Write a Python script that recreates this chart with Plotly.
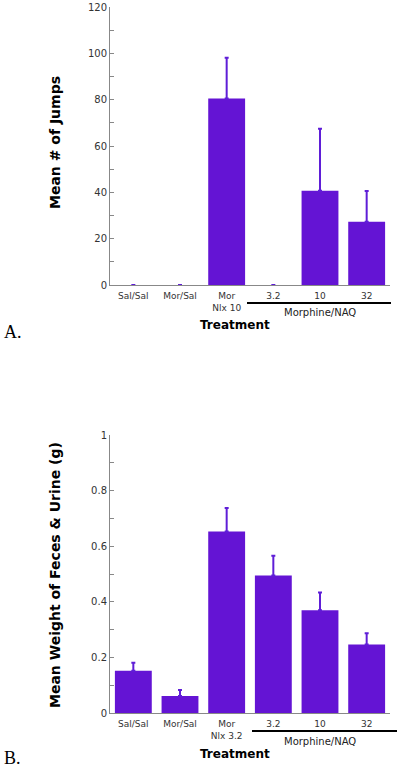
import plotly.graph_objects as go

categories = ["Sal/Sal", "Mor/Sal", "Mor", "3.2", "10", "32"]
labels_a = ["Sal/Sal", "Mor/Sal", "Mor<br>Nlx 10", "3.2", "10", "32"]
labels_b = ["Sal/Sal", "Mor/Sal", "Mor<br>Nlx 3.2", "3.2", "10", "32"]

jumps_mean = [0, 0, 80.5, 0, 40.7, 27.3]
jumps_err = [0, 0, 17.6, 0, 26.8, 13.3]

weight_mean = [0.153, 0.062, 0.653, 0.495, 0.370, 0.247]
weight_err = [0.029, 0.022, 0.085, 0.071, 0.064, 0.041]

BAR = "rgb(100,20,212)"
ERR = "rgb(95,30,215)"
FONT = "DejaVu Sans"
xs = list(range(len(categories)))

fig = go.Figure()
fig.add_trace(go.Bar(x=xs, y=jumps_mean, xaxis="x", yaxis="y", width=0.79,
                     marker=dict(color=BAR, line=dict(width=0)),
                     error_y=dict(type="data", array=jumps_err, arrayminus=[0]*6, symmetric=False,
                                  color=ERR, thickness=2, width=2),
                     showlegend=False, cliponaxis=False))
fig.add_trace(go.Bar(x=xs, y=weight_mean, xaxis="x2", yaxis="y2", width=0.79,
                     marker=dict(color=BAR, line=dict(width=0)),
                     error_y=dict(type="data", array=weight_err, arrayminus=[0]*6, symmetric=False,
                                  color=ERR, thickness=2, width=2),
                     showlegend=False, cliponaxis=False))

W = 400.0
H = 769.0

def px_x(p):
    return p / W

def px_y(p):
    return min(1.0, max(0.0, 1 - p / H))

xdom = [px_x(110), px_x(390)]
ydomA = [px_y(285), px_y(7)]
ydomB = [px_y(713.3), px_y(435)]

common_x = dict(range=[-0.5, 5.5], showgrid=False, zeroline=False, showline=True,
                linecolor="#888", linewidth=1, ticks="", tickmode="array", tickvals=xs,
                tickfont=dict(family=FONT, size=9, color="#333"), ticklabelstandoff=2,
                automargin=False)
common_y = dict(showgrid=False, zeroline=False, showline=True, linecolor="#888", linewidth=1,
                ticks="inside", ticklen=4, tickcolor="#888", automargin=False,
                tickfont=dict(family=FONT, size=10, color="#333"))

fig.update_layout(
    width=W, height=H,
    margin=dict(l=0, r=0, t=0, b=0, pad=0),
    plot_bgcolor="white", paper_bgcolor="white",
    bargap=0.2,
    xaxis=dict(domain=xdom, anchor="y", ticktext=labels_a, **common_x),
    yaxis=dict(domain=ydomA, anchor="x", range=[0, 120], tickvals=[0, 20, 40, 60, 80, 100, 120],
               minor=dict(dtick=10, tick0=0, ticks="inside", ticklen=4, tickcolor="#888"), **common_y),
    xaxis2=dict(domain=xdom, anchor="y2", ticktext=labels_b, **common_x),
    yaxis2=dict(domain=ydomB, anchor="x2", range=[0, 1], tickvals=[0, 0.2, 0.4, 0.6, 0.8, 1],
                ticktext=["0", "0.2", "0.4", "0.6", "0.8", "1"],
                minor=dict(dtick=0.1, tick0=0, ticks="inside", ticklen=4, tickcolor="#888"), **common_y),
)

def note(text, x, y, size, xref="paper", family=FONT, color="black", angle=0, xanchor="center"):
    return dict(text=text, x=x, y=y, xref=xref, yref="paper", xanchor=xanchor, yanchor="middle",
                textangle=angle, showarrow=False, font=dict(family=family, size=size, color=color))

ann = [
    # Panel A
    note("<b>Mean # of Jumps</b>", px_x(55), px_y(143), 14, angle=-90),
    note("Morphine/NAQ", 4, px_y(312), 10, xref="x", color="#222"),
    note("<b>Treatment</b>", px_x(235), px_y(325), 12),
    note("A.", px_x(2), px_y(332), 18, family="Liberation Serif", xanchor="left"),
    # Panel B
    note("<b>Mean Weight of Feces &amp; Urine (g)</b>", px_x(55), px_y(575), 14, angle=-90),
    note("Morphine/NAQ", 4, px_y(741), 10, xref="x2", color="#222"),
    note("<b>Treatment</b>", px_x(235), px_y(754), 12),
    note("B.", px_x(2), px_y(758), 18, family="Liberation Serif", xanchor="left"),
]
fig.update_layout(annotations=ann)

fig.update_layout(shapes=[
    dict(type="line", xref="paper", yref="paper", x0=px_x(247), x1=px_x(391), y0=px_y(303), y1=px_y(303),
         line=dict(color="black", width=2)),
    dict(type="line", xref="paper", yref="paper", x0=px_x(252), x1=px_x(397), y0=px_y(731), y1=px_y(731),
         line=dict(color="black", width=2)),
])

fig.write_html("out.html",
               config={"displayModeBar": False},
               post_script="document.body.style.margin='0';document.body.style.overflow='hidden';")
